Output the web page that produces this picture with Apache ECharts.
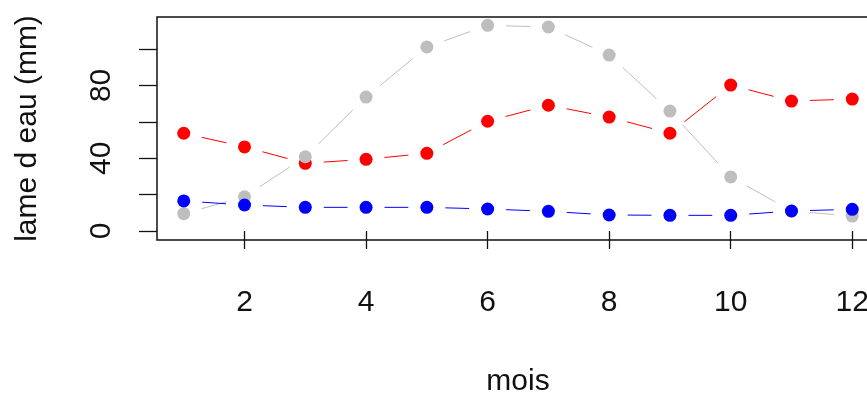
<!DOCTYPE html>
<html><head><meta charset="utf-8">
<script src="https://cdn.jsdelivr.net/npm/echarts@6/dist/echarts.min.js"></script>
<style>html,body{margin:0;padding:0;background:#fff}#c{width:867px;height:393px}</style>
</head><body><div id="c"></div>
<script>
const months = [1,2,3,4,5,6,7,8,9,10,11,12];
const redVals  = [53.7, 46.2, 37.2, 39.4, 42.7, 60.3, 69.1, 62.6, 53.7, 80.2, 71.4, 72.5];
const greyVals = [9.5, 18.8, 40.8, 73.6, 101.1, 113.0, 112.1, 96.7, 65.9, 29.7, 11.0, 8.2];
const blueVals = [16.5, 14.3, 13.0, 13.0, 13.0, 12.1, 10.8, 8.8, 8.6, 8.6, 11.0, 11.9];
const xTicks = [2,4,6,8,10,12];
const yTicks = [0,20,40,60,80,100];
const yLabels = [0,40,80];

const FONT = '"Liberation Sans", Arial, sans-serif';
const GAP = 18.5;

function makeSeries(name, vals, color) {
  return {
    type: 'custom', name: name,
    data: months.map((m, i) => [m, vals[i]]),
    encode: {x: 0, y: 1},
    clip: false,
    renderItem: function (params, api) {
      const i = params.dataIndex;
      const p = api.coord([api.value(0), api.value(1)]);
      const children = [];
      if (i < months.length - 1) {
        const q = api.coord([months[i + 1], vals[i + 1]]);
        const dx = q[0] - p[0], dy = q[1] - p[1];
        const L = Math.hypot(dx, dy);
        if (L > 2 * GAP) {
          const ux = dx / L, uy = dy / L;
          children.push({type: 'line', shape: {x1: p[0] + ux * GAP, y1: p[1] + uy * GAP, x2: q[0] - ux * GAP, y2: q[1] - uy * GAP},
            style: {stroke: color, lineWidth: 1}});
        }
      }
      children.push({type: 'circle', shape: {cx: p[0], cy: p[1], r: 6.5}, style: {fill: color}});
      return {type: 'group', children: children};
    }
  };
}

const chart = echarts.init(document.getElementById('c'), null, {renderer: 'canvas'});
chart.setOption({
  animation: false,
  backgroundColor: '#fff',
  grid: {left: 157, top: 17, width: 722, height: 223, outerBoundsMode: 'none', containLabel: false,
    show: true, borderColor: '#111', borderWidth: 1.5, backgroundColor: 'transparent'},
  xAxis: {
    type: 'value', min: 0.56, max: 12.44,
    name: 'mois', nameLocation: 'middle', nameGap: 127,
    nameTextStyle: {fontFamily: FONT, fontSize: 30, color: '#111'},
    axisLine: {show: false},
    axisTick: {show: true, length: 18, customValues: xTicks, lineStyle: {color: '#111', width: 1.3}},
    axisLabel: {customValues: xTicks, margin: 48, fontFamily: FONT, fontSize: 30, color: '#111'},
    splitLine: {show: false}
  },
  yAxis: {
    type: 'value', min: -4.95, max: 117.6,
    name: 'lame d eau (mm)', nameLocation: 'middle', nameGap: 114,
    nameTextStyle: {fontFamily: FONT, fontSize: 30, color: '#111'},
    axisLine: {show: false},
    axisTick: {show: true, length: 18, customValues: yTicks, lineStyle: {color: '#111', width: 1.3}},
    axisLabel: {customValues: yLabels, rotate: 90, margin: 40, fontFamily: FONT, fontSize: 30, color: '#111'},
    splitLine: {show: false}
  },
  series: [
    makeSeries('rouge', redVals, '#ff0000'),
    makeSeries('gris', greyVals, '#bebebe'),
    makeSeries('bleu', blueVals, '#0000ff')
  ]
});
</script>
</body></html>
